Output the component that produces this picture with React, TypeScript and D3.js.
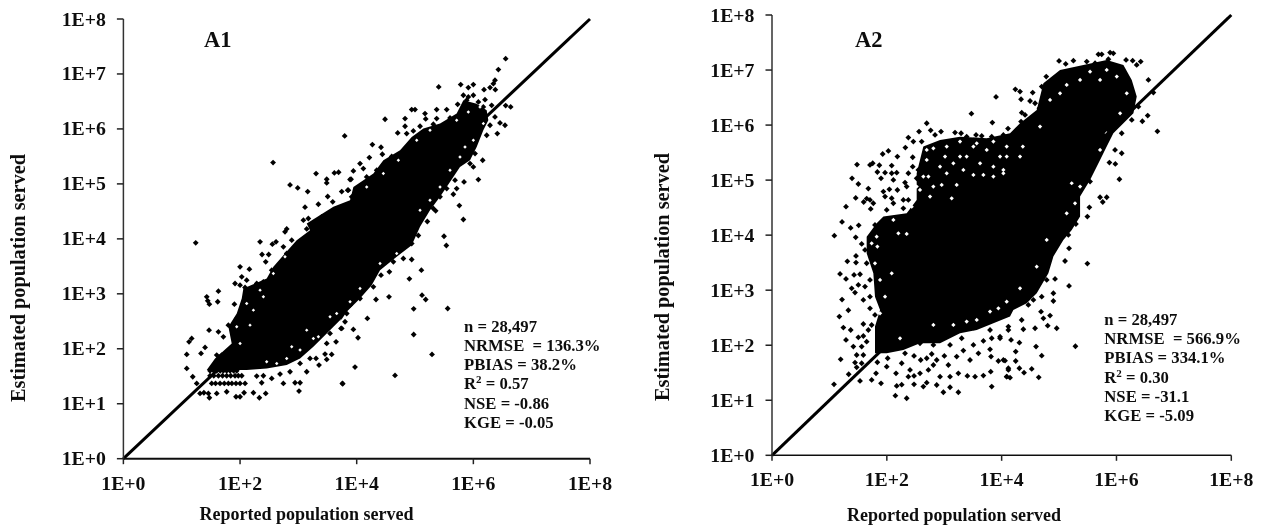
import React from "react";
import * as d3 from "d3";

type P = [number, number];

const decadeExponents = [0, 1, 2, 3, 4, 5, 6, 7, 8];
const xTickExponents = [0, 2, 4, 6, 8];
const referenceLine = [1, 1e8];

const statsA1 = ["n = 28,497", "NRMSE  = 136.3%", "PBIAS = 38.2%", "R|0.57", "NSE = -0.86", "KGE = -0.05"];
const statsA2 = ["n = 28,497", "NRMSE  = 566.9%", "PBIAS = 334.1%", "R|0.30", "NSE = -31.1", "KGE = -5.09"];

// Merged black body of the A1 cloud, outline (log10 reported, log10 estimated)
const a1Core: P[] = [[1.429,1.612],[1.571,1.824],[1.857,2.097],[1.8,2.4],[1.943,2.642],[2.029,2.915],[2.057,3.097],[2.257,3.188],[2.457,3.279],[2.571,3.491],[2.743,3.703],[2.971,3.976],[3.2,4.158],[3.143,4.279],[3.6,4.582],[3.886,4.703],[3.943,4.945],[4.286,5.188],[4.457,5.43],[4.743,5.612],[4.943,5.855],[5.143,6.006],[5.429,6.097],[5.714,6.279],[5.829,6.521],[6.057,6.46],[6.229,6.339],[6.257,6.158],[6.171,5.976],[6.057,5.673],[5.943,5.43],[5.771,5.309],[5.657,5.127],[5.429,4.764],[5.257,4.521],[5.086,4.218],[4.943,3.885],[4.686,3.673],[4.4,3.43],[4.257,3.158],[4.057,2.915],[3.829,2.673],[3.714,2.491],[3.743,2.552],[3.486,2.279],[3.257,2.036],[3.029,1.824],[2.8,1.703],[2.457,1.642],[2.114,1.612]];
// White specks where the A1 fringe is not fully covered
const a1Gaps: P[] = [[2.886,2.036],[2.457,1.764],[2.629,1.733],[3.143,2.339],[3.343,2.218],[3.543,2.582],[2.229,2.703],[2.4,2.945],[2.171,2.43],[2,2.097],[2.571,3.37],[2.771,3.673],[2.343,3.067],[2.114,2.824],[1.943,2.4],[3.029,1.976],[2.8,1.824],[3.257,2.188],[3.657,2.642],[4.714,5.43],[4.457,5.188],[4.171,4.945],[5.029,5.794],[5.257,5.976],[5.714,6.158],[5.914,6.309],[6.114,6.4],[6.171,6.097],[6,5.794],[5.857,5.673],[5.771,5.491],[5.6,5.248],[5.429,4.945],[5.257,4.703],[5.086,4.521],[4.057,3.097],[4.4,3.552],[4.686,3.733],[3.886,2.855]];

// Individually visible A1 points
const a1Upper: P[] = [[2.566,5.388],[3.794,5.873],[2.857,4.982],[2.989,4.927],[3.16,4.86],[3.303,5.188],[3.486,5.085],[3.486,5.018],[3.617,5.2],[3.69,5.212],[3.743,4.86],[3.846,4.885],[3.503,4.77],[3.589,4.673],[3.114,4.576],[3.343,4.63],[2.8,4.18],[3.143,4.18],[3.086,4.34],[3.171,4.37],[3.4,4.4],[3.486,4.4],[3.886,5.08]];
const a1TopRight: P[] = [[6.554,7.279],[6.429,7.079],[6.371,6.885],[6.343,6.824],[6.286,6.752],[6.377,6.715],[6.183,6.715],[6,6.806],[5.914,6.752],[5.783,6.806],[5.406,6.764],[5.829,6.612],[5.914,6.582],[6,6.612],[5.886,6.521],[6.2,6.533],[6.086,6.491],[6.314,6.43],[6.171,6.4],[6.554,6.424],[6.64,6.4],[5.731,6.448],[6.371,6.218],[6.457,6.109],[6.543,6.067],[6.411,5.915],[6.286,6.067],[6.229,5.885],[6.16,5.43],[6.086,5.079],[5.84,5.036],[5.714,4.915],[5.657,4.812],[5.76,4.606],[5.829,4.352],[5.354,4.509],[5.211,4.315],[5,6.352],[4.943,6.352],[5.171,6.279],[5.371,6.352],[5.543,6.352],[5.183,6.182],[5.371,6.188],[4.486,6.176],[4.829,6.188],[4.829,6.048],[5.086,6.048],[5.314,6.085],[4.703,5.927],[4.857,5.915],[4.971,5.964],[4.269,5.715],[4.417,5.667],[4.217,5.479],[4.44,5.539],[4.057,5.37],[3.943,5.236],[3.903,5.085],[3.857,4.885],[4.114,5.279],[4.6,5.5],[4.143,5.006],[4.171,5.127],[4.343,5.248],[3.914,4.764],[5.686,5.067],[5.8,5.43],[5.943,5.37],[6,5.309],[6.029,5.552],[5.429,4.764],[5.314,4.552],[5.543,4.915],[5.6,6.2]];
const a1LowerLeft: P[] = [[1.24,3.927],[2.343,3.945],[2.554,3.903],[2.617,3.945],[2.377,3.715],[2.491,3.715],[2.44,3.582],[2,3.491],[2.16,3.448],[2.029,3.309],[2.114,3.248],[1.914,3.188],[2,3.158],[2.086,3.115],[1.629,3.048],[1.429,2.945],[1.446,2.873],[1.474,2.812],[1.617,2.855],[1.903,2.812],[2.286,3.188],[2.4,3.218],[2.543,3.43],[2.714,3.552],[2.8,3.733],[2.743,3.855],[2.886,3.976],[2.771,4.127],[1.469,2.339],[1.171,2.188],[1.126,2.127],[1.086,1.897],[1.4,2.024],[1.331,1.915],[1.086,1.642],[1.189,1.491],[1.257,1.37],[1.629,2.309],[1.714,2.218],[1.8,2.43],[1.943,2.552],[1.886,2.339],[1.6,1.885],[1.686,1.885]];
const a1Bands: P[] = [[1.486,1.6],[1.55,1.6],[1.6,1.6],[1.66,1.6],[1.714,1.6],[1.77,1.6],[1.829,1.6],[1.89,1.6],[1.943,1.6],[1.486,1.509],[1.55,1.509],[1.629,1.509],[1.7,1.509],[1.771,1.509],[1.84,1.509],[1.914,1.509],[1.97,1.509],[2.029,1.509],[1.514,1.37],[1.58,1.37],[1.657,1.37],[1.73,1.37],[1.8,1.37],[1.86,1.37],[1.93,1.37],[2.0,1.37],[2.086,1.37]];
const a1Below: P[] = [[1.314,1.188],[1.457,1.188],[1.38,1.2],[1.474,1.109],[1.6,1.188],[1.771,1.218],[1.931,1.127],[2,1.127],[2.069,1.2],[2.229,1.2],[2.331,1.109],[2.44,1.188],[2.286,1.503],[2.4,1.509],[2.371,1.382],[2.543,1.461],[2.743,1.37],[2.943,1.382],[3.029,1.382],[3.011,1.23],[3.754,1.37],[2.686,1.539],[2.857,1.582],[3.143,1.582],[3.029,1.733],[3.2,1.824],[3.354,1.703],[3.303,1.824],[3.486,1.806],[3.571,1.897],[3.457,1.903],[3.646,2.127],[3.486,2.097],[3.743,2.37],[3.543,2.279],[3.6,2.521],[3.829,2.642]];
const a1LowerRight: P[] = [[5.057,4.061],[5.497,4.048],[5.537,3.879],[4.943,3.624],[5.109,3.43],[4.903,3.273],[4.8,3.642],[4.629,3.582],[4.56,3.4],[4.417,3.339],[4.286,3.127],[4.554,2.945],[4.331,2.897],[5.12,2.976],[5.183,2.897],[4.977,2.727],[5.56,2.733],[4.183,2.552],[4.057,2.915],[3.943,2.352],[4.023,2.2],[4.977,2.26],[5.291,1.897],[3.971,1.667],[4.657,1.515],[3.76,1.364],[3.8,2.491],[3.731,2.37],[3.886,2.794],[3.771,2.703],[4.743,3.824],[4.514,3.673],[4.943,3.915]];

// Merged black body of the A2 cloud
const a2Core: P[] = [[1.794,2.035],[1.794,2.338],[1.882,2.641],[1.794,2.883],[1.765,3.307],[1.649,3.67],[1.649,3.973],[1.823,4.215],[1.94,4.337],[2.346,4.397],[2.52,4.64],[2.52,5.124],[2.636,5.609],[2.927,5.73],[3.275,5.79],[3.74,5.76],[4.146,5.851],[4.32,6.033],[4.611,6.275],[4.727,6.759],[5.017,7.002],[5.424,7.093],[5.83,7.184],[6.121,7.093],[6.266,6.82],[6.353,6.517],[6.295,6.214],[6.121,6.033],[5.946,5.851],[5.83,5.609],[5.714,5.366],[5.54,5.003],[5.366,4.7],[5.366,4.337],[5.221,4.094],[5.075,3.913],[4.901,3.61],[4.814,3.307],[4.611,2.944],[4.437,2.762],[4.204,2.641],[4.146,2.52],[3.856,2.399],[3.566,2.277],[3.275,2.217],[2.927,2.035],[2.578,2.035],[2.288,1.914],[1.998,1.853],[1.794,1.853]];
const a2Gaps: P[] = [[2.811,5.578],[3.014,5.427],[3.275,5.427],[3.508,5.609],[3.74,5.548],[3.972,5.427],[2.695,5.366],[2.927,5.245],[3.159,5.306],[3.391,5.427],[3.624,5.306],[3.856,5.245],[4.088,5.427],[2.724,5.064],[2.956,4.912],[3.217,4.912],[3.508,5.094],[3.856,5.064],[2.578,4.821],[2.753,4.7],[3.13,4.67],[3.275,5.7],[3.566,5.669],[3.856,5.7],[2.636,5.064],[2.695,5.548],[3.043,5.609],[3.333,5.185],[3.682,5.094],[4.03,5.124],[2.52,4.882],[2.433,4.518],[2.114,4.276],[3.043,5.124],[2.81,4.882],[1.835,3.792],[1.794,3.489],[2.085,3.307],[1.969,2.883],[1.882,3.186],[2.201,4.034],[2.346,4.022],[1.823,3.973],[1.736,3.852],[1.882,2.58],[2.23,2.126],[2.811,2.368],[3.159,2.368],[3.391,2.429],[3.798,2.611],[3.943,2.671],[3.566,2.459],[5.366,6.82],[5.714,6.82],[5.133,6.729],[5.54,6.971],[5.83,7.002],[6.005,6.881],[6.179,6.578],[6.063,6.214],[4.843,6.457],[5.017,6.578],[4.669,5.972],[4.369,5.609],[4.088,5.609],[4.32,5.427],[4.03,5.185],[5.83,5.851],[5.714,5.548],[5.366,4.882],[5.22,4.943],[5.278,4.579],[5.133,4.397],[4.785,3.913],[4.611,3.428],[4.32,3.035],[4.088,2.792]];

// Individually visible A2 points
const a2UpperLeft: P[] = [[3.902,6.511],[3.473,6.208],[3.838,6.045],[2.695,6.033],[4.111,5.936],[2.561,5.881],[2.764,5.905],[2.84,5.821],[2.944,5.881],[2.375,5.772],[2.462,5.7],[2.323,5.591],[2.607,5.7],[3.188,5.863],[3.293,5.851],[3.391,5.79],[3.554,5.821],[3.653,5.803],[3.827,5.79],[4.03,5.821],[2.451,5.415],[2.451,5.245],[2.184,5.427],[2.027,5.53],[1.928,5.475],[1.481,5.282],[1.707,5.276],[1.754,5.306],[1.87,5.27],[2.085,5.264],[1.835,5.148],[1.969,5.136],[2.085,5.124],[2.172,5.136],[1.394,5.033],[1.899,5.033],[1.504,4.93],[2.114,5.003],[2.317,4.955],[2.346,4.882],[1.678,4.846],[1.94,4.791],[2.044,4.833],[2.184,4.821],[1.458,4.676],[1.649,4.664],[1.707,4.64],[1.597,4.603],[1.765,4.579],[1.969,4.7],[2.085,4.67],[2.288,4.64],[2.375,4.64],[1.289,4.518],[1.719,4.476],[1.998,4.458],[2.114,4.579],[2.288,4.488],[2.462,4.488],[1.22,4.24],[1.37,4.131],[1.51,4.179],[1.794,4.185],[2.375,5.124],[2.52,5.033],[2.549,5.185]];
const a2UpperRight: P[] = [[5.889,7.317],[5.946,7.304],[5.685,7.286],[5.743,7.286],[5.859,7.196],[5,7.165],[5.116,7.111],[5.25,7.171],[5.482,7.153],[5.627,7.123],[6.167,7.184],[6.282,7.171],[6.422,7.153],[6.352,7.093],[6.556,6.82],[6.643,6.59],[6.382,6.335],[6.544,6.172],[6.451,6.069],[6.713,5.887],[6.266,6.093],[6.091,5.851],[5.975,5.548],[6.091,5.488],[5.877,5.318],[5.98,5.294],[6.051,5.015],[5.714,4.688],[5.83,4.688],[5.761,4.603],[5.54,4.973],[5.528,4.506],[5.493,4.337],[5.293,4.203],[4.239,6.65],[4.32,6.608],[4.541,6.59],[4.338,6.469],[4.495,6.438],[4.582,6.396],[4.35,6.226],[4.408,6.184],[4.658,6.305],[4.338,6.063],[4.262,5.911],[4.698,6.699],[4.777,6.881],[4.901,6.759]];
const a2LowerLeft: P[] = [[1.086,3.991],[1.458,3.961],[1.562,3.84],[1.312,3.525],[1.463,3.622],[1.463,3.501],[1.185,3.295],[1.289,3.204],[1.429,3.277],[1.533,3.289],[1.388,3.034],[1.446,2.956],[1.504,3.095],[1.62,3.065],[1.707,3.186],[1.649,3.489],[1.62,3.731],[1.22,2.829],[1.591,2.823],[1.707,2.883],[1.33,2.635],[1.707,2.671],[1.794,2.55],[1.173,2.52],[1.243,2.32],[1.371,2.277],[1.591,2.386],[1.736,2.368],[1.678,2.277],[1.289,2.096],[1.504,2.144],[1.591,2.168],[1.417,1.975],[1.649,2.065],[1.562,1.975],[1.475,1.823],[1.196,1.744],[1.591,1.823],[1.446,1.684],[1.475,1.599],[1.562,1.672],[1.336,1.472],[1.08,1.29],[1.533,1.351],[1.736,1.369],[1.899,1.308],[1.812,1.49],[1.835,1.69],[1.998,1.611],[2.015,1.763]];
const a2Below: P[] = [[2.16,1.49],[2.172,1.26],[2.259,1.284],[2.149,1.084],[2.346,1.036],[2.375,1.429],[2.474,1.442],[2.474,1.29],[2.636,1.248],[2.695,1.32],[2.578,1.49],[2.404,1.551],[2.259,1.672],[2.317,1.853],[2.474,1.805],[2.59,1.732],[2.695,1.763],[2.782,1.841],[2.811,1.641],[2.869,1.732],[2.724,1.551],[2.869,1.278],[2.985,1.145],[3.101,1.236],[3.246,1.145],[2.927,1.429],[3.101,1.429],[3.246,1.49],[3.403,1.442],[3.537,1.429],[3.682,1.448],[3.81,1.52],[3.827,1.248],[3.002,1.805],[3.072,1.641],[3.217,1.793],[3.333,1.902],[3.449,1.732],[3.595,1.853],[3.798,1.926],[3.815,1.793],[3.943,1.714],[4.059,1.72],[4.117,1.551],[4.088,1.429],[3.972,2.156],[3.827,2.126],[3.682,2.078],[3.508,2.005],[3.304,2.126],[3.101,2.005],[2.927,2.156],[2.811,2.005],[2.578,2.035],[3.798,2.277],[4.117,2.277]];
const a2LowerRight: P[] = [[5.493,3.483],[5.174,3.761],[5.104,3.531],[5.162,4.004],[4.93,3.204],[5.174,3.077],[4.785,3.186],[4.901,2.944],[4.901,2.804],[4.698,2.883],[4.553,2.823],[4.843,2.538],[4.727,2.489],[4.686,2.61],[4.802,2.356],[4.959,2.308],[4.582,2.308],[4.465,2.732],[4.349,2.459],[4.378,2.29],[4.117,2.338],[4.164,2.096],[4.309,2.047],[4.599,1.975],[5.285,1.981],[4.698,1.811],[4.245,1.884],[4.245,1.714],[4.03,1.732],[4.117,1.581],[4.309,1.581],[4.39,1.502],[4.524,1.569],[4.646,1.417],[4.088,1.429],[4.146,1.411],[3.972,2.126]];

const a1Points = [...a1Upper, ...a1TopRight, ...a1LowerLeft, ...a1Bands, ...a1Below, ...a1LowerRight];
const a2Points = [...a2UpperLeft, ...a2UpperRight, ...a2LowerLeft, ...a2Below, ...a2LowerRight];

const FONT = "'Liberation Serif', 'Times New Roman', serif";

type PanelProps = {
  name: string; xRange: [number, number]; yRange: [number, number];
  core: P[]; gaps: P[]; gapSize: number; points: P[]; stats: string[];
  nameX: number; statsX: number; statsY: number; xTitleX: number; yTitleX: number; yTitleY: number;
  xTickY: number; xTitleY: number; axisW: number;
};

function Panel(p: PanelProps) {
  const x = d3.scaleLog().domain([1, 1e8]).range(p.xRange);
  const y = d3.scaleLog().domain([1, 1e8]).range(p.yRange);
  const px = (e: number) => x(Math.pow(10, e));
  const py = (e: number) => y(Math.pow(10, e));
  const area = d3.line<P>().x((d) => px(d[0])).y((d) => py(d[1])).curve(d3.curveLinearClosed);
  const dot = d3.symbol().type(d3.symbolSquare).size(17)() as string;
  const gap = d3.symbol().type(d3.symbolSquare).size(p.gapSize)() as string;
  const diag = d3.line<number>().x((d) => x(d)).y((d) => y(d));
  return (
    <g fontFamily={FONT} fontWeight="bold" fill="#111">
      <path d={area(p.core) as string} fill="#000" />
      {p.points.map((d, i) => (
        <path key={i} d={dot} fill="#000" transform={`translate(${px(d[0])},${py(d[1])}) rotate(45)`} />
      ))}
      {p.gaps.map((d, i) => (
        <path key={i} d={gap} fill="#fff" transform={`translate(${px(d[0])},${py(d[1])}) rotate(45)`} />
      ))}
      <path d={diag(referenceLine) as string} stroke="#000" strokeWidth={3} fill="none" />
      <line x1={x(1)} x2={x(1)} y1={y(1)} y2={y(1e8)} stroke="#333" strokeWidth={1.5} />
      <line x1={x(1)} x2={x(1e8)} y1={y(1)} y2={y(1)} stroke="#111" strokeWidth={p.axisW} />
      {decadeExponents.map((e) => (
        <g key={e}>
          <line x1={x(1) - 6.5} x2={x(1)} y1={py(e)} y2={py(e)} stroke="#222" strokeWidth={1.5} />
          <text x={x(1) - 17.5} y={py(e) + 6.5} textAnchor="end" fontSize={19.8}>{`1E+${e}`}</text>
        </g>
      ))}
      {xTickExponents.map((e) => (
        <g key={e}>
          <line x1={px(e)} x2={px(e)} y1={y(1)} y2={y(1) + 5.5} stroke="#222" strokeWidth={1.5} />
          <text x={px(e)} y={p.xTickY} textAnchor="middle" fontSize={19.8}>{`1E+${e}`}</text>
        </g>
      ))}
      <text x={p.nameX} y={47} fontSize={22.5}>{p.name}</text>
      <text x={p.xTitleX} y={p.xTitleY} textAnchor="middle" fontSize={18}>Reported population served</text>
      <text transform={`translate(${p.yTitleX},${p.yTitleY}) rotate(-90)`} textAnchor="middle" fontSize={20.3}>Estimated population served</text>
      {p.stats.map((s, i) => {
        const yy = p.statsY + i * 19.2;
        if (s.startsWith("R|")) {
          return (
            <text key={i} x={p.statsX} y={yy} fontSize={16.7}>
              R<tspan fontSize={11} dy={-6}>2</tspan><tspan dy={6}>{` = ${s.slice(2)}`}</tspan>
            </text>
          );
        }
        return <text key={i} x={p.statsX} y={yy} fontSize={16.7} style={{ whiteSpace: "pre" }}>{s}</text>;
      })}
    </g>
  );
}

export default function App() {
  return (
    <svg width={1263} height={527} style={{ position: "absolute", left: 0, top: 0, background: "#fff" }}>
      <defs>
        <filter id="soft" x="0" y="0" width="100%" height="100%">
          <feGaussianBlur stdDeviation="0.35" />
        </filter>
      </defs>
      <g filter="url(#soft)">
        <Panel name="A1" xRange={[123.4, 590]} yRange={[458.7, 19]} core={a1Core} gaps={a1Gaps} gapSize={6} points={a1Points} stats={statsA1}
          nameX={204} statsX={464} statsY={331.7} xTitleX={306.5} yTitleX={25} yTitleY={278} xTickY={490} xTitleY={520} axisW={2} />
        <Panel name="A2" xRange={[772, 1231.3]} yRange={[455.3, 15]} core={a2Core} gaps={a2Gaps} gapSize={9} points={a2Points} stats={statsA2}
          nameX={855} statsX={1104.3} statsY={325} xTitleX={954} yTitleX={669} yTitleY={277} xTickY={486} xTitleY={521} axisW={1.5} />
      </g>
    </svg>
  );
}
